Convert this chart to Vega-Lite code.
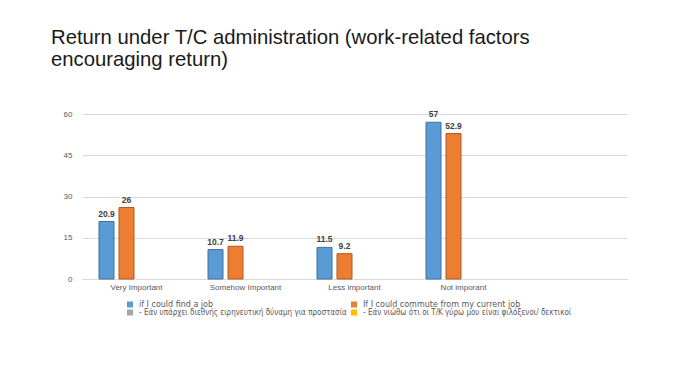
{
  "$schema": "https://vega.github.io/schema/vega-lite/v6.json",
  "autosize": {"type": "none"},
  "width": 545,
  "height": 165,
  "padding": {"left": 82, "top": 114, "right": 67, "bottom": 113},
  "background": "white",
  "title": {
    "text": ["Return under T/C administration (work-related factors", "encouraging return)"],
    "anchor": "start",
    "frame": "group",
    "font": "Liberation Sans",
    "fontSize": 20.3,
    "fontWeight": "normal",
    "color": "#1a1a1a",
    "lineHeight": 22,
    "dx": -31,
    "offset": 40
  },
  "data": {
    "values": [
      {"category": "Very Important", "series": "if I could find a job", "value": 20.9},
      {"category": "Very Important", "series": "If I could commute from my current job", "value": 26},
      {"category": "Somehow Important", "series": "if I could find a job", "value": 10.7},
      {"category": "Somehow Important", "series": "If I could commute from my current job", "value": 11.9},
      {"category": "Less important", "series": "if I could find a job", "value": 11.5},
      {"category": "Less important", "series": "If I could commute from my current job", "value": 9.2},
      {"category": "Not imporant", "series": "if I could find a job", "value": 57},
      {"category": "Not imporant", "series": "If I could commute from my current job", "value": 52.9}
    ]
  },
  "encoding": {
    "x": {
      "field": "category",
      "type": "nominal",
      "sort": null,
      "scale": {
        "domain": ["Very Important", "Somehow Important", "Less important", "Not imporant", "(none)"],
        "paddingInner": 0,
        "paddingOuter": 0
      },
      "axis": {
        "title": null,
        "labelAngle": 0,
        "labelExpr": "datum.value == '(none)' ? '' : datum.label",
        "labelFont": "Liberation Sans",
        "labelFontSize": 8,
        "labelColor": "#595959",
        "labelPadding": 4,
        "ticks": false,
        "domainColor": "#d9d9d9",
        "grid": false
      }
    },
    "xOffset": {
      "field": "series",
      "type": "nominal",
      "scale": {
        "domain": [
          "if I could find a job",
          "If I could commute from my current job",
          "- Εάν υπάρχει διεθνής ειρηνευτική δύναμη για προστασία",
          "- Εάν νιώθω ότι οι Τ/Κ γύρω μου είναι φιλόξενοι/ δεκτικοί"
        ],
        "paddingInner": 0.25,
        "paddingOuter": 0.85
      }
    },
    "y": {
      "field": "value",
      "type": "quantitative",
      "scale": {"domain": [0, 60]},
      "axis": {
        "title": null,
        "values": [0, 15, 30, 45, 60],
        "labelFont": "Liberation Sans",
        "labelFontSize": 8,
        "labelColor": "#595959",
        "labelPadding": 10,
        "ticks": false,
        "domain": false,
        "gridColor": "#d9d9d9",
        "gridWidth": 1
      }
    }
  },
  "layer": [
    {
      "mark": {"type": "bar", "strokeWidth": 1},
      "encoding": {
        "color": {
          "field": "series",
          "type": "nominal",
          "scale": {
            "domain": [
              "if I could find a job",
              "If I could commute from my current job",
              "- Εάν υπάρχει διεθνής ειρηνευτική δύναμη για προστασία",
              "- Εάν νιώθω ότι οι Τ/Κ γύρω μου είναι φιλόξενοι/ δεκτικοί"
            ],
            "range": ["#5b9bd5", "#ed7d31", "#a5a5a5", "#ffc000"]
          },
          "legend": {
            "title": null,
            "orient": "none",
            "legendX": 44,
            "legendY": 186.5,
            "direction": "horizontal",
            "columns": 2,
            "columnPadding": 3,
            "rowPadding": 0,
            "padding": 0,
            "symbolType": "square",
            "symbolSize": 36,
            "symbolStrokeWidth": 0,
            "labelFont": "DejaVu Sans",
            "labelFontSize": 8,
            "labelColor": "#595959",
            "labelOffset": 5,
            "labelLimit": 400,
            "encode": {
              "labels": {
                "update": {
                  "font": {"signal": "test(/Εάν/, datum.label) ? \"'DejaVu Sans Condensed', 'Liberation Sans'\" : 'DejaVu Sans'"}
                }
              }
            }
          }
        },
        "stroke": {
          "field": "series",
          "type": "nominal",
          "scale": {
            "domain": [
              "if I could find a job",
              "If I could commute from my current job"
            ],
            "range": ["#41719c", "#ae5a21"]
          },
          "legend": null
        }
      }
    },
    {
      "mark": {
        "type": "text",
        "baseline": "bottom",
        "dy": -3,
        "font": "Liberation Sans",
        "fontSize": 8.5,
        "fontWeight": "bold",
        "color": "#404040"
      },
      "encoding": {
        "text": {"field": "value", "type": "quantitative"}
      }
    }
  ],
  "config": {
    "view": {"stroke": null}
  }
}
